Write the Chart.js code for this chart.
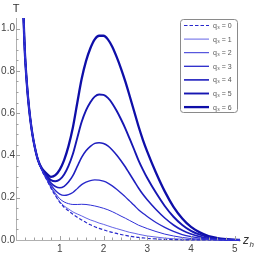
<!DOCTYPE html>
<html>
<head>
<meta charset="utf-8">
<script src="https://cdn.jsdelivr.net/npm/chart.js@4.4.0/dist/chart.umd.min.js"></script>
<style>
  html, body { margin: 0; padding: 0; background: #fff; }
</style>
</head>
<body>
<canvas id="grafico" width="256" height="256"></canvas>
<script>
// z_h sample points and T values
const zH = [0.16, 0.2, 0.25, 0.3, 0.35, 0.4, 0.5, 0.6, 0.7, 0.8, 0.9, 1.0, 1.1, 1.2, 1.3, 1.4, 1.5, 1.6, 1.7, 1.8, 1.9, 2.0,
            2.1, 2.2, 2.3, 2.4, 2.5, 2.6, 2.7, 2.8, 2.9, 3.0, 3.2, 3.4, 3.6, 3.8, 4.0, 4.2, 4.4, 4.6, 4.8, 5.0, 5.12];

const q0 = [1.12, 0.90, 0.735, 0.62, 0.535, 0.47, 0.38, 0.325, 0.285, 0.245, 0.21, 0.178, 0.155, 0.138, 0.122, 0.108, 0.095, 0.083, 0.072, 0.063, 0.055, 0.048,
            0.042, 0.036, 0.031, 0.026, 0.022, 0.018, 0.015, 0.012, 0.010, 0.008, 0.005, 0.003, 0.002, 0.001, 0.0005, 0.0002, 0.0001, 0, 0, 0, 0];
const q1 = [1.12, 0.90, 0.735, 0.62, 0.535, 0.47, 0.38, 0.325, 0.286, 0.247, 0.213, 0.182, 0.161, 0.147, 0.133, 0.123, 0.114, 0.104, 0.095, 0.088, 0.080, 0.074,
            0.067, 0.060, 0.054, 0.048, 0.042, 0.036, 0.032, 0.027, 0.023, 0.019, 0.014, 0.009, 0.006, 0.004, 0.002, 0.001, 0.001, 0, 0, 0, 0];
const q2 = [1.12, 0.90, 0.735, 0.62, 0.535, 0.47, 0.38, 0.326, 0.288, 0.251, 0.221, 0.195, 0.180, 0.172, 0.168, 0.168, 0.169, 0.168, 0.165, 0.161, 0.156, 0.150,
            0.143, 0.134, 0.124, 0.113, 0.103, 0.092, 0.081, 0.070, 0.062, 0.054, 0.040, 0.028, 0.019, 0.012, 0.007, 0.004, 0.002, 0.001, 0, 0, 0];
const q3 = [1.12, 0.90, 0.735, 0.62, 0.535, 0.47, 0.38, 0.328, 0.292, 0.259, 0.234, 0.217, 0.211, 0.215, 0.225, 0.243, 0.262, 0.274, 0.281, 0.284, 0.283, 0.278,
            0.269, 0.256, 0.240, 0.222, 0.204, 0.184, 0.164, 0.143, 0.126, 0.111, 0.083, 0.060, 0.041, 0.026, 0.016, 0.009, 0.005, 0.002, 0.001, 0, 0];
const q4 = [1.12, 0.90, 0.735, 0.62, 0.535, 0.47, 0.38, 0.330, 0.298, 0.269, 0.253, 0.247, 0.254, 0.274, 0.304, 0.348, 0.391, 0.422, 0.443, 0.457, 0.460, 0.456,
            0.445, 0.426, 0.402, 0.375, 0.345, 0.312, 0.279, 0.246, 0.216, 0.190, 0.144, 0.104, 0.071, 0.046, 0.028, 0.016, 0.008, 0.004, 0.002, 0.001, 0];
const q5 = [1.12, 0.90, 0.735, 0.62, 0.535, 0.47, 0.38, 0.333, 0.305, 0.283, 0.278, 0.286, 0.310, 0.351, 0.407, 0.483, 0.558, 0.613, 0.652, 0.678, 0.688, 0.686,
            0.672, 0.646, 0.611, 0.571, 0.527, 0.478, 0.428, 0.377, 0.333, 0.293, 0.223, 0.161, 0.110, 0.071, 0.043, 0.025, 0.013, 0.006, 0.003, 0.001, 0];
const q6 = [1.12, 0.90, 0.735, 0.62, 0.535, 0.47, 0.38, 0.336, 0.314, 0.299, 0.307, 0.333, 0.378, 0.444, 0.532, 0.648, 0.761, 0.846, 0.907, 0.949, 0.966, 0.966,
            0.949, 0.914, 0.866, 0.811, 0.749, 0.680, 0.609, 0.538, 0.474, 0.418, 0.318, 0.230, 0.157, 0.102, 0.062, 0.036, 0.018, 0.009, 0.004, 0.001, 0];

const series = [q0, q1, q2, q3, q4, q5, q6];
const legendLabels = ['q₃ = 0', 'q₃ = 1', 'q₃ = 2', 'q₃ = 3', 'q₃ = 4', 'q₃ = 5', 'q₃ = 6'];

const xTicks = [1, 2, 3, 4, 5];
const yTicks = [0, 0.2, 0.4, 0.6, 0.8, 1.0];

const cores = ['#2828cc', '#3c3ce0', '#3030d6', '#2828ca', '#1e1ebe', '#1616b2', '#0e0ea8'];
const larguras = [1.2, 0.8, 1.0, 1.3, 1.6, 1.9, 2.3];

const fonte = '"Liberation Sans", "DejaVu Sans", sans-serif';

// ticks para dentro, rótulos dos eixos e legenda
const extras = {
    id: 'extras',
    afterDraw(chart) {
        const ctx = chart.ctx;
        const a = chart.chartArea;
        const x = chart.scales.x;
        const y = chart.scales.y;
        ctx.save();
        ctx.strokeStyle = '#a0a0a0';
        ctx.lineWidth = 1;
        ctx.beginPath();
        for (let i = 1; i <= 25; i++) {
            const v = i * 0.2;
            const px = Math.round(x.getPixelForValue(v)) + 0.5;
            const len = (i % 5 === 0) ? 4 : 2.5;
            ctx.moveTo(px, a.bottom);
            ctx.lineTo(px, a.bottom - len);
        }
        for (let i = 1; i <= 20; i++) {
            const v = i * 0.05;
            const py = Math.round(y.getPixelForValue(v)) + 0.5;
            const len = (i % 4 === 0) ? 4 : 2.5;
            ctx.moveTo(a.left, py);
            ctx.lineTo(a.left + len, py);
        }
        ctx.stroke();

        // rótulos dos eixos
        ctx.fillStyle = '#333';
        ctx.font = '11px ' + fonte;
        ctx.textAlign = 'center';
        ctx.textBaseline = 'alphabetic';
        ctx.fillText('T', 16, 12);
        ctx.textAlign = 'left';
        ctx.font = 'italic 12px ' + fonte;
        ctx.fillText('z', 243, 244);
        ctx.font = 'italic 8px ' + fonte;
        ctx.fillText('h', 249.5, 247);

        // legenda
        const bx = 180.5, by = 19.5, bw = 57, bh = 93;
        ctx.beginPath();
        ctx.roundRect(bx, by, bw, bh, 3);
        ctx.fillStyle = '#fff';
        ctx.fill();
        ctx.strokeStyle = '#8a8a8a';
        ctx.lineWidth = 1;
        ctx.stroke();

        ctx.font = '7px ' + fonte;
        ctx.textBaseline = 'middle';
        chart.data.datasets.forEach((ds, i) => {
            const ly = 25.5 + i * 13.6;
            ctx.beginPath();
            ctx.strokeStyle = ds.borderColor;
            ctx.lineWidth = ds.borderWidth;
            ctx.setLineDash(ds.borderDash || []);
            ctx.moveTo(184, ly);
            ctx.lineTo(209, ly);
            ctx.stroke();
            ctx.setLineDash([]);
            ctx.fillStyle = '#555';
            ctx.fillText(ds.label, 213, ly + 0.5);
        });
        ctx.restore();
    }
};

const ctxGrafico = document.getElementById('grafico').getContext('2d');
new Chart(ctxGrafico, {
    type: 'line',
    data: {
        datasets: series.map((s, i) => ({
            label: legendLabels[i],
            data: zH.map((z, k) => ({ x: z, y: s[k] })),
            borderColor: cores[i],
            borderWidth: larguras[i],
            borderDash: i === 0 ? [3.5, 2] : [],
            pointRadius: 0,
            fill: false,
            cubicInterpolationMode: 'monotone',
            clip: { left: 0, top: 0, right: 3, bottom: 3 }
        }))
    },
    options: {
        responsive: false,
        devicePixelRatio: 1,
        animation: false,
        layout: { padding: { top: 18, right: 16, left: 0, bottom: 0 } },
        plugins: {
            legend: { display: false },
            tooltip: { enabled: false }
        },
        scales: {
            x: {
                type: 'linear',
                min: 0,
                max: 5.12,
                afterBuildTicks: function(scale) {
                    scale.ticks = xTicks.map(v => ({ value: v }));
                },
                afterFit: function(scale) { scale.height = 16; },
                grid: { drawOnChartArea: false, drawTicks: false },
                border: { display: true, color: '#b0b0b0', width: 1 },
                ticks: {
                    padding: 3,
                    color: '#444',
                    font: { family: fonte, size: 10 },
                    maxRotation: 0,
                    callback: function(value) { return String(value); }
                }
            },
            y: {
                type: 'linear',
                min: 0,
                max: 1.05,
                afterBuildTicks: function(scale) {
                    scale.ticks = yTicks.map(v => ({ value: v }));
                },
                afterFit: function(scale) { scale.width = 16; },
                grid: { drawOnChartArea: false, drawTicks: false },
                border: { display: true, color: '#b0b0b0', width: 1 },
                ticks: {
                    padding: 1,
                    color: '#444',
                    font: { family: fonte, size: 10 },
                    callback: function(value) { return value.toFixed(1); }
                }
            }
        }
    },
    plugins: [extras]
});
</script>
</body>
</html>
